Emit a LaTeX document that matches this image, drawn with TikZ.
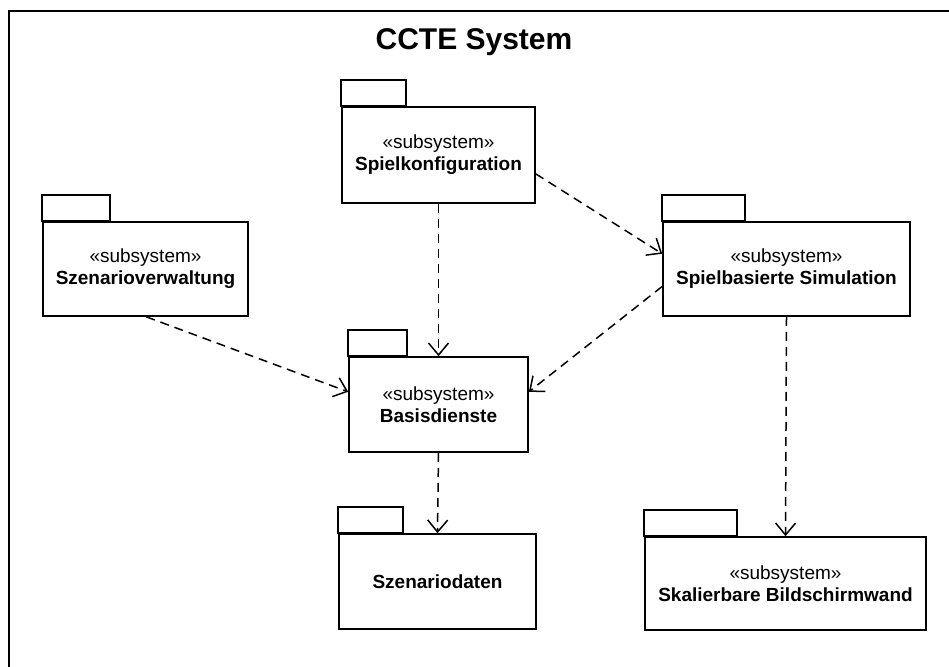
\documentclass[tikz,border=0pt]{standalone}
\usepackage{fontspec}
\setmainfont{Liberation Sans}
\usetikzlibrary{arrows.meta}

\begin{document}
\begin{tikzpicture}[
    x=1pt, y=-1pt,
    every node/.style={font=\fontsize{19}{22}\selectfont},
    package/.style={draw,line width=1.7pt,inner sep=0pt,align=center},
    pkg tab/.style={line width=1.7pt},
    dependency/.style={line width=1.5pt,dash pattern=on 9pt off 6pt,
        -{Straight Barb[length=12pt,width=20pt,line width=1.5pt]}},
    frame/.style={line width=2.2pt}
]
\useasboundingbox (0,0) rectangle (949,666);
\draw [frame] (9,11) rectangle (975,690);

\node (title) at (474,42) {\fontsize{30}{36}\selectfont\bfseries CCTE System};

% packages
\node [package,minimum width=193pt,minimum height=96pt] (konfig) at (438.5,155)
    {«subsystem»\\\textbf{Spielkonfiguration}};
\node [package,minimum width=205pt,minimum height=94pt] (szenver) at (145.5,269)
    {«subsystem»\\\textbf{Szenarioverwaltung}};
\node [package,minimum width=247pt,minimum height=94pt] (simul) at (786.5,269)
    {«subsystem»\\\textbf{Spielbasierte Simulation}};
\node [package,minimum width=179pt,minimum height=95pt] (basis) at (438.5,404.5)
    {«subsystem»\\\textbf{Basisdienste}};
\node [package,minimum width=197pt,minimum height=95pt] (daten) at (437.5,581.5)
    {\textbf{Szenariodaten}};
\node [package,minimum width=281pt,minimum height=93pt] (wand) at (785.5,583.5)
    {«subsystem»\\\textbf{Skalierbare Bildschirmwand}};

\foreach \pkg/\tabw in {konfig/65, szenver/68, simul/83, basis/59, daten/65, wand/93}
    \draw [pkg tab] (\pkg.north west) rectangle ++(\tabw,-26);

% dependencies
\draw [dependency] (konfig.south) -- (basis.north);
\draw [dependency] (konfig.-11) -- (simul.173);
\draw [dependency] (simul.188) -- (basis.8);
\draw [dependency] (szenver.-89) -- (basis.172);
\draw [dependency] (basis.south) -- (daten.north);
\draw [dependency] (simul.south) -- (wand.north);

\end{tikzpicture}
\end{document}
